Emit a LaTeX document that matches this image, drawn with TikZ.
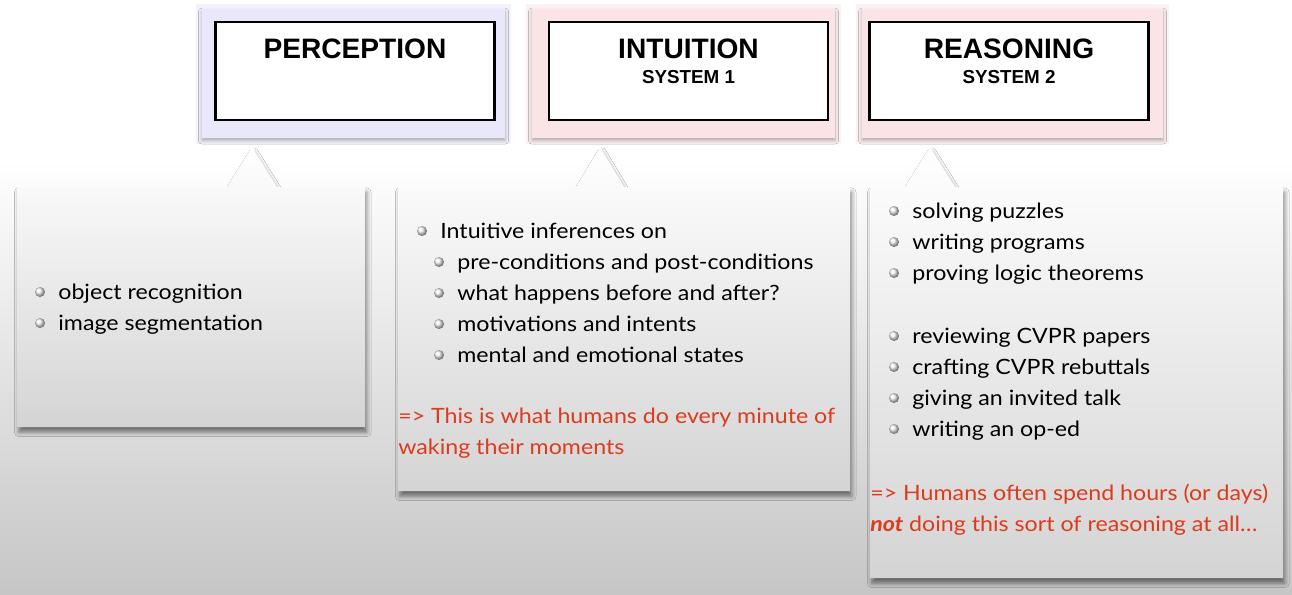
\documentclass[tikz,border=0pt]{standalone}
\usepackage{fontspec}
\setmainfont{Lato}[FakeStretch=1.1]
\newfontfamily\headfont{Liberation Sans}
\usepackage{xcolor}
\usepackage{tikz}
\usetikzlibrary{positioning,calc,shadows.blur}
\definecolor{alert}{HTML}{DC3B1E}
\definecolor{glowblue}{HTML}{E9E7FA}
\definecolor{glowpink}{HTML}{FBE4E6}
\definecolor{panelgray}{HTML}{D4D4D4}

\begin{document}
\begin{tikzpicture}[x=0.02cm,y=-0.02cm,
  head/.style={draw=black,line width=1.3pt,fill=white,minimum width=5.58cm,minimum height=1.96cm,inner sep=0},
  halo/.style={fill=#1,blur shadow={shadow xshift=0pt,shadow yshift=-1.5pt,shadow blur radius=2pt,shadow opacity=30}},
  panel/.style={top color=white,bottom color=panelgray,blur shadow={shadow xshift=1pt,shadow yshift=-3pt,shadow blur radius=2.5pt,shadow opacity=50}},
  item/.style={anchor=base west,inner sep=0,font=\fontsize{12}{14}\selectfont},
  note/.style={item,text=alert},
  title/.style={anchor=base,inner sep=0,font=\headfont\bfseries\fontsize{16}{19}\selectfont},
  sub/.style={anchor=base,inner sep=0,font=\headfont\bfseries\fontsize{10.7}{13}\selectfont},
  dot/.style={ball color=gray!12}]
\useasboundingbox (0,0) rectangle (1292,595);
% backdrop
\fill[white] (0,0) rectangle (1292,595);
\shade[top color=white,bottom color=gray!45] (0,160) rectangle (1292,595);

% headers
\fill[glowblue,opacity=.5] (196,4) rectangle (511,144);
\fill[glowpink,opacity=.5] (526,4) rectangle (841,144);
\fill[glowpink,opacity=.5] (856,4) rectangle (1169,144);
\path[halo=glowblue] (202,9) rectangle (505,138);
\path[halo=glowpink] (532,9) rectangle (835,138);
\path[halo=glowpink] (862,9) rectangle (1163,138);
\node[head] (perc) at (355,71) {};
\node[head] (intu) at (688.5,71) {};
\node[head] (reas) at (1009,71) {};
\node[title] (percT) at ($(perc.north)+(0,38)$) {PERCEPTION};
\node[title] (intuT) at ($(intu.north)+(0,38)$) {INTUITION};
\node[sub] (intuS) at ($(intu.north)+(0,63)$) {SYSTEM 1};
\node[title] (reasT) at ($(reas.north)+(0,38)$) {REASONING};
\node[sub] (reasS) at ($(reas.north)+(0,63)$) {SYSTEM 2};

% callout panels
\path[panel] (17,187) -- (227,187) -- (252,147) -- (277,187) -- (365,187) -- (365,427) -- (17,427) -- cycle;
\path[panel] (398,187) -- (576,187) -- (600,147) -- (624,187) -- (850,187) -- (850,491) -- (398,491) -- cycle;
\path[panel] (870,187) -- (905,187) -- (930,147) -- (955,187) -- (1283,187) -- (1283,578) -- (870,578) -- cycle;

% perception
\foreach \t [count=\i] in {object recognition,image segmentation} {
  \node[item] (perc\i) at (58,268+31*\i) {\t};
  \shade[dot] ($(perc\i.base west)+(-18,-7)$) circle (5);
}

% intuition
\node[item] (intu0) at (440,238) {Intuitive inferences on};
\shade[dot] ($(intu0.base west)+(-18,-7)$) circle (5);
\foreach \t [count=\i] in {pre-conditions and post-conditions,what happens before and after?,motivations and intents,mental and emotional states} {
  \node[item] (intu\i) at (457,238+31*\i) {\t};
  \shade[dot] ($(intu\i.base west)+(-18,-7)$) circle (5);
}
\node[note] (intuN1) at (398,423) {=> This is what humans do every minute of};
\node[note] (intuN2) at (398,454) {waking their moments};

% reasoning
\foreach \t [count=\i] in {solving puzzles,writing programs,proving logic theorems} {
  \node[item] (reasA\i) at (912,187+31*\i) {\t};
  \shade[dot] ($(reasA\i.base west)+(-18,-7)$) circle (5);
}
\foreach \t [count=\i] in {reviewing CVPR papers,crafting CVPR rebuttals,giving an invited talk,writing an op-ed} {
  \node[item] (reasB\i) at (912,312+31*\i) {\t};
  \shade[dot] ($(reasB\i.base west)+(-18,-7)$) circle (5);
}
\node[note] (reasN1) at (870,500) {=> Humans often spend hours (or days)};
\node[note] (reasN2) at (870,531) {\textbf{\textit{not}} doing this sort of reasoning at all\ldots};
\end{tikzpicture}
\end{document}
